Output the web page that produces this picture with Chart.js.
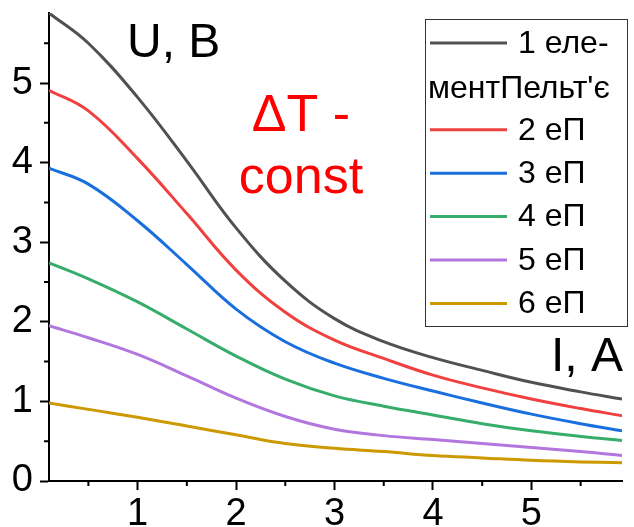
<!DOCTYPE html>
<html lang="uk">
  <head>
    <meta charset="UTF-8">
    <script src="https://cdn.jsdelivr.net/npm/chart.js"></script>
    <style>
      body { margin: 0; background: #fff; }
      #peltierChart { display: block; }
    </style>
  </head>
  <body>
    <canvas id="peltierChart" width="634" height="527"></canvas>

    <script>
      // струм, А
      const currents = [0.1, 0.5, 1, 1.5, 2, 2.5, 3, 3.5, 4, 4.5, 5, 5.5, 5.92];
      // напруга, В для 1..6 елементів Пельтьє
      const u1 = [5.88, 5.50, 4.82, 4.02, 3.18, 2.51, 2.04, 1.75, 1.55, 1.39, 1.24, 1.12, 1.03];
      const u2 = [4.91, 4.65, 4.05, 3.36, 2.65, 2.12, 1.77, 1.54, 1.33, 1.17, 1.03, 0.91, 0.82];
      const u3 = [3.93, 3.73, 3.27, 2.72, 2.16, 1.75, 1.48, 1.29, 1.13, 0.98, 0.84, 0.72, 0.63];
      const u4 = [2.74, 2.54, 2.25, 1.91, 1.57, 1.28, 1.07, 0.94, 0.83, 0.72, 0.63, 0.56, 0.51];
      const u5 = [1.95, 1.80, 1.59, 1.32, 1.04, 0.81, 0.65, 0.57, 0.52, 0.47, 0.42, 0.37, 0.32];
      const u6 = [0.98, 0.90, 0.80, 0.69, 0.58, 0.47, 0.41, 0.37, 0.32, 0.29, 0.26, 0.24, 0.23];

      const seriesLabels = [['1 еле-', "ментПельт'є"], ['2 еП'], ['3 еП'], ['4 еП'], ['5 еП'], ['6 еП']];
      const seriesColors = ['#515151', '#F14040', '#1A6FDF', '#37AD6B', '#B177DE', '#CC9900'];
      const xTicks = [1, 2, 3, 4, 5];
      const yTicks = [0, 1, 2, 3, 4, 5];

      const FONT = "'Liberation Sans', Arial, sans-serif";

      const allSeries = [u1, u2, u3, u4, u5, u6];
      const datasets = allSeries.map((vals, i) => ({
        label: seriesLabels[i].join(' '),
        data: vals.map((v, k) => ({ x: currents[k], y: v })),
        borderColor: seriesColors[i],
        borderWidth: 3,
        pointRadius: 0,
        fill: false,
        tension: 0.4
      }));

      // мінорні поділки, підписи осей, легенда
      const extras = {
        id: 'extras',
        afterDraw(chart) {
          const c = chart.ctx;
          const xs = chart.scales.x, ys = chart.scales.y;
          const area = chart.chartArea;
          c.save();
          c.strokeStyle = '#000';
          c.lineWidth = 2;
          c.beginPath();
          for (let v = 0.5; v < xs.max; v += 1) {
            const px = xs.getPixelForValue(v);
            if (px < area.left) continue;
            c.moveTo(px, area.bottom);
            c.lineTo(px, area.bottom + 5);
          }
          for (let v = 0.5; v < ys.max; v += 1) {
            const py = ys.getPixelForValue(v);
            c.moveTo(area.left, py);
            c.lineTo(area.left - 5, py);
          }
          c.stroke();

          c.fillStyle = '#000';
          c.textBaseline = 'alphabetic';
          c.textAlign = 'left';
          c.font = '48px ' + FONT;
          c.fillText('U, B', 127, 57);
          c.fillText('I, A', 551, 371);

          c.fillStyle = '#ff0000';
          c.font = '52px ' + FONT;
          c.textAlign = 'center';
          c.fillText('\u0394T -', 301, 131);
          c.fillText('const', 301, 193);

          // легенда
          c.strokeStyle = '#333';
          c.lineWidth = 1;
          c.strokeRect(425.5, 19.5, 202, 307);
          c.font = '32px ' + FONT;
          c.textAlign = 'left';
          c.textBaseline = 'middle';
          c.fillStyle = '#000';
          let y = 43;
          const rowH = 43.4;
          seriesLabels.forEach((lines, i) => {
            c.strokeStyle = seriesColors[i];
            c.lineWidth = 3;
            c.beginPath();
            c.moveTo(430, y);
            c.lineTo(507, y);
            c.stroke();
            c.fillText(lines[0], 518, y + 1);
            y += rowH;
            for (let k = 1; k < lines.length; k++) {
              c.fillText(lines[k], 428, y + 3);
              y += rowH;
            }
          });
          c.restore();
        }
      };

      new Chart(document.getElementById('peltierChart').getContext('2d'), {
        type: 'line',
        data: { datasets },
        options: {
          responsive: false,
          animation: false,
          layout: { padding: { top: 13, right: 12, left: 0, bottom: 0 } },
          plugins: { legend: { display: false }, tooltip: { enabled: false } },
          scales: {
            x: {
              type: 'linear',
              min: currents[0],
              max: currents[currents.length - 1],
              afterFit(s) { s.height = 46; s.paddingLeft = 0; s.paddingRight = 0; },
              afterBuildTicks(s) { s.ticks = xTicks.map(v => ({ value: v })); },
              ticks: { color: '#000', font: { family: FONT, size: 38 }, padding: 2, maxRotation: 0 },
              grid: { drawOnChartArea: false, tickLength: 9, tickWidth: 2, tickColor: '#000' },
              border: { color: '#000', width: 2 }
            },
            y: {
              min: 0,
              max: 5.88,
              afterFit(s) { s.width = 49; s.paddingTop = 0; s.paddingBottom = 0; },
              afterBuildTicks(s) { s.ticks = yTicks.map(v => ({ value: v })); },
              ticks: { color: '#000', font: { family: FONT, size: 38 }, padding: 7 },
              grid: { drawOnChartArea: false, tickLength: 9, tickWidth: 2, tickColor: '#000' },
              border: { color: '#000', width: 2 }
            }
          }
        },
        plugins: [extras]
      });
    </script>
  </body>
</html>
